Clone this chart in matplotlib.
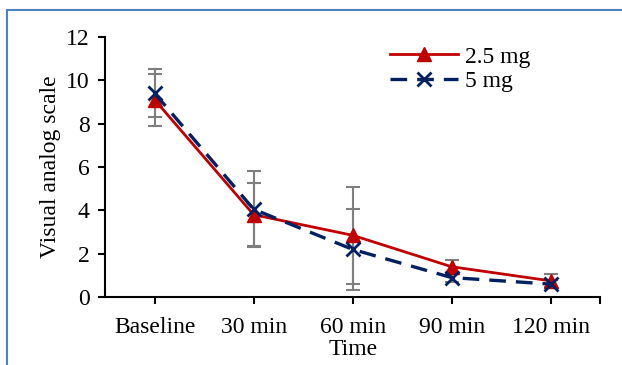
import matplotlib.pyplot as plt
from matplotlib.patches import Rectangle

# Datos
tiempos = ["Baseline", "30 min", "60 min", "90 min", "120 min"]
vas_25 = [9.1, 3.8, 2.85, 1.4, 0.75]
sd_25 = [1.2, 1.45, 2.25, 0.3, 0.3]
vas_5 = [9.4, 4.05, 2.2, 0.9, 0.6]
sd_5 = [1.1, 1.75, 1.85, 0.2, 0.2]

ROJO, AZUL, GRIS = "#c00000", "#002060", "#7f7f7f"

plt.rcParams.update({
    "font.family": ["Liberation Serif", "DejaVu Serif"],
    "font.size": 17,
})

fig = plt.figure(figsize=(6.22, 3.65), dpi=100)
# marco azul del recuadro
fig.patches.append(Rectangle((7 / 622, -0.1), 1.2, 1 - 10 / 365 + 0.1,
                             transform=fig.transFigure, fill=False,
                             edgecolor="#4f81bd", lw=1.5))

ax = fig.add_axes([0.169, 0.186, 0.796, 0.713])
x = list(range(len(tiempos)))

ax.errorbar(x, vas_25, yerr=sd_25, fmt="none", ecolor=GRIS, elinewidth=1.5,
            capsize=5, capthick=1.5, zorder=1)
ax.errorbar(x, vas_5, yerr=sd_5, fmt="none", ecolor=GRIS, elinewidth=1.5,
            capsize=5, capthick=1.5, zorder=1)
ax.plot(x, vas_25, color=ROJO, lw=2, marker="^", ms=10, label="2.5 mg", zorder=3)
ax.plot(x, vas_5, color=AZUL, lw=2.4, ls=(0, (5, 3)), marker="x", ms=10,
        mew=2, label="5 mg", zorder=4)

ax.set_xlim(-0.5, 4.5)
ax.set_ylim(0, 12)
ax.set_yticks(range(0, 13, 2))
ax.set_xticks(x)
ax.set_xticklabels(tiempos)
ax.set_xticks([4.5], minor=True)
ax.tick_params(which="both", direction="out", length=5, width=1.5)
ax.tick_params(axis="x", pad=9)
ax.tick_params(axis="y", pad=6)
for s in ("top", "right"):
    ax.spines[s].set_visible(False)
for s in ("left", "bottom"):
    ax.spines[s].set_linewidth(1.5)

ax.set_xlabel("Time", labelpad=1)
ax.set_ylabel("Visual analog scale", labelpad=4)
ax.legend(loc="upper left", bbox_to_anchor=(0.575, 0.965), frameon=False,
          handlelength=2.9, handletextpad=0.3, borderaxespad=0,
          borderpad=0, labelspacing=0.12)

fig.savefig("out.png", dpi=100)
